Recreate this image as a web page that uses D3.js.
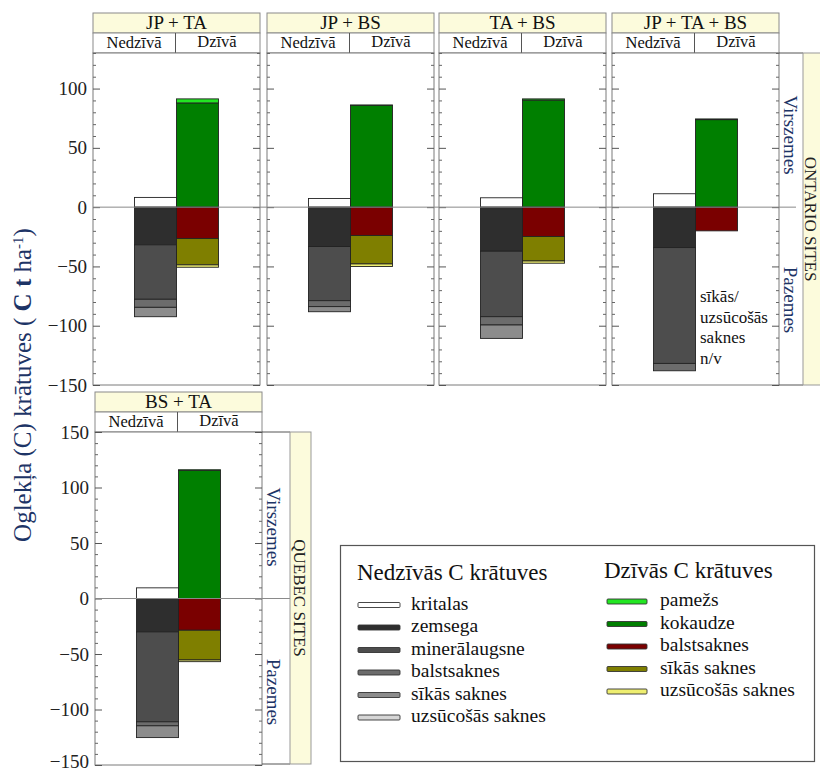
<!DOCTYPE html>
<html>
<head>
<meta charset="utf-8">
<script src="https://cdn.jsdelivr.net/npm/d3@7"></script>
<style>
  html, body { margin: 0; padding: 0; background: #fff; }
</style>
</head>
<body>
<svg id="chart" width="820" height="771"></svg>
<script>
// Carbon stocks (t C/ha) by forest type, dead vs live pools
const sites = ["JP + TA", "JP + BS", "TA + BS", "JP + TA + BS", "BS + TA"];
const columns = ["Nedzīvā", "Dzīvā"];

// Dead pools (Nedzīvā)
const deadPools = ["kritalas", "zemsega", "minerālaugsne", "balstsaknes", "sīkās saknes", "uzsūcošās saknes"];
const deadColors = ["#ffffff", "#2e2e2e", "#4d4d4d", "#6c6c6c", "#8c8c8c", "#d6d6d6"];
const deadKritalas   = [8.2, 7.3, 7.9, 11.3, 9.6];
const deadZemsega    = [31.8, 33.2, 37.2, 34.1, 30.1];
const deadMineral    = [45.9, 45.7, 55.2, 97.7, 81.0];
const deadBalst      = [6.8, 5.0, 7.0, 6.2, 3.6];
const deadSikas      = [7.9, 4.3, 11.3, 0, 10.6];
const deadUzsucosas  = [0, 0, 0, 0, 0];

// Live pools (Dzīvā)
const livePools = ["pamežs", "kokaudze", "balstsaknes", "sīkās saknes", "uzsūcošās saknes"];
const liveColors = ["#22e622", "#007f00", "#7a0000", "#7f7f00", "#eeee70"];
const livePamezs     = [3.4, 0.5, 1.0, 0.6, 0.6];
const liveKokaudze   = [87.9, 85.7, 90.3, 73.8, 115.4];
const liveBalst      = [26.5, 23.9, 24.8, 20.0, 28.6];
const liveSikas      = [22.2, 24.0, 20.6, 0, 26.8];
const liveUzsucosas  = [2.0, 2.2, 1.9, 0, 1.5];

const topTicks = [100, 50, 0, -50, -100, -150];
const bottomTicks = [150, 100, 50, 0, -50, -100, -150];

const FONT = "Liberation Serif";
const svg = d3.select("#chart");
const blue = "#1d3466";

// Panel geometry
const panelW = 167;
const panels = [
  { site: 0, x: 93,  top: 53,  bottom: 385, hdr: 13,  domain: [-150, 130], ticks: topTicks, labels: true },
  { site: 1, x: 267, top: 53,  bottom: 385, hdr: 13,  domain: [-150, 130], ticks: topTicks, labels: false },
  { site: 2, x: 439, top: 53,  bottom: 385, hdr: 13,  domain: [-150, 130], ticks: topTicks, labels: false },
  { site: 3, x: 612, top: 53,  bottom: 385, hdr: 13,  domain: [-150, 130], ticks: topTicks, labels: false },
  { site: 4, x: 95,  top: 432, bottom: 765, hdr: 392, domain: [-150, 150], ticks: bottomTicks, labels: true }
];

// Build stacked segments for one site
function segments(i) {
  const segs = [];
  // dead column: litter above ground, the rest stacked downward
  segs.push({ col: "Nedzīvā", y0: 0, y1: deadKritalas[i], color: deadColors[0] });
  const deadBelow = [deadZemsega[i], deadMineral[i], deadBalst[i], deadSikas[i], deadUzsucosas[i]];
  let acc = 0;
  deadBelow.forEach((v, k) => {
    if (v > 0) segs.push({ col: "Nedzīvā", y0: -acc, y1: -(acc + v), color: deadColors[k + 1] });
    acc += v;
  });
  // live column: trees, then understory on top
  segs.push({ col: "Dzīvā", y0: 0, y1: liveKokaudze[i], color: liveColors[1] });
  segs.push({ col: "Dzīvā", y0: liveKokaudze[i], y1: liveKokaudze[i] + livePamezs[i], color: liveColors[0] });
  const liveBelow = [liveBalst[i], liveSikas[i], liveUzsucosas[i]];
  acc = 0;
  liveBelow.forEach((v, k) => {
    if (v > 0) segs.push({ col: "Dzīvā", y0: -acc, y1: -(acc + v), color: liveColors[k + 2] });
    acc += v;
  });
  return segs;
}

panels.forEach(p => {
  const g = svg.append("g");
  const y = d3.scaleLinear().domain(p.domain).range([p.bottom, p.top]);
  const x = d3.scaleBand().domain(columns).range([p.x + 41.5, p.x + 125.5]).padding(0);

  // header boxes
  g.append("rect").attr("x", p.x).attr("y", p.hdr).attr("width", panelW).attr("height", 20)
    .attr("fill", "#fcfbdc").attr("stroke", "#8a8a8a").attr("stroke-width", 1);
  g.append("text").attr("x", p.x + panelW / 2).attr("y", p.hdr + 16).attr("text-anchor", "middle")
    .attr("font-size", 19).attr("fill", "#111").text(sites[p.site]);
  g.append("rect").attr("x", p.x).attr("y", p.hdr + 20).attr("width", panelW).attr("height", 20)
    .attr("fill", "#fff").attr("stroke", "#8a8a8a").attr("stroke-width", 1);
  g.append("line").attr("x1", p.x + 82.5).attr("x2", p.x + 82.5).attr("y1", p.hdr + 20).attr("y2", p.hdr + 40)
    .attr("stroke", "#555");
  g.append("text").attr("x", p.x + 41).attr("y", p.hdr + 35).attr("text-anchor", "middle")
    .attr("font-size", 16.5).attr("fill", "#111").text(columns[0]);
  g.append("text").attr("x", p.x + 124).attr("y", p.hdr + 34).attr("text-anchor", "middle")
    .attr("font-size", 16.5).attr("fill", "#111").text(columns[1]);

  // plot frame
  g.append("rect").attr("x", p.x).attr("y", p.top).attr("width", panelW).attr("height", p.bottom - p.top)
    .attr("fill", "#fff").attr("stroke", "#7a7a7a").attr("stroke-width", 1);

  // inner ticks on both sides (minor every 10, major every 50)
  const minor = d3.range(-150, p.domain[1] + 0.1, 10).filter(v => v % 50 !== 0);
  const major = d3.range(-150, p.domain[1] + 0.1, 50);
  [[d3.axisRight, p.x], [d3.axisLeft, p.x + panelW]].forEach(([axisFn, ax]) => {
    g.append("g").attr("transform", `translate(${ax},0)`)
      .call(axisFn(y).tickValues(minor).tickSize(3).tickFormat(""))
      .call(s => s.select(".domain").remove())
      .call(s => s.selectAll("line").attr("stroke", "#666"));
    g.append("g").attr("transform", `translate(${ax},0)`)
      .call(axisFn(y).tickValues(major).tickSize(7).tickFormat(""))
      .call(s => s.select(".domain").remove())
      .call(s => s.selectAll("line").attr("stroke", "#555"));
  });

  // value labels on the leftmost panel of each row
  if (p.labels) {
    g.append("g").attr("transform", `translate(${p.x},0)`)
      .call(d3.axisLeft(y).tickValues(p.ticks).tickSize(0).tickPadding(6).tickFormat(d3.format("d")))
      .call(s => s.attr("font-size", 19).attr("font-family", FONT))
      .call(s => s.select(".domain").remove())
      .call(s => s.selectAll("text").attr("fill", "#222")
        .attr("dy", d => d === -150 && p.site === 4 ? "0.12em" : "0.32em"));
  }

  // stacked bars
  g.selectAll("rect.seg").data(segments(p.site)).join("rect").attr("class", "seg")
    .attr("x", d => x(d.col)).attr("width", x.bandwidth())
    .attr("y", d => y(Math.max(d.y0, d.y1)))
    .attr("height", d => Math.abs(y(d.y0) - y(d.y1)))
    .attr("fill", d => d.color).attr("stroke", "#222").attr("stroke-width", 0.9);
});

// zero lines
const yTop = d3.scaleLinear().domain([-150, 130]).range([385, 53]);
const yBot = d3.scaleLinear().domain([-150, 150]).range([765, 432]);
svg.append("line").attr("x1", 93).attr("x2", 796).attr("y1", yTop(0)).attr("y2", yTop(0))
  .attr("stroke", "#8a8a8a").attr("stroke-width", 1);
svg.append("line").attr("x1", 95).attr("x2", 290).attr("y1", yBot(0)).attr("y2", yBot(0))
  .attr("stroke", "#8a8a8a").attr("stroke-width", 1);

// note for missing fine root data
const note = svg.append("text").attr("x", 700).attr("font-size", 17).attr("fill", "#111");
["sīkās/", "uzsūcošās", "saknes", "n/v"].forEach((t, i) => {
  note.append("tspan").attr("x", 700).attr("y", yTop(-80) + i * 20.5).text(t);
});

// region brackets with site group labels
function bracket(xEdge, top, bottom, boxX, label, upY, downY, labelX) {
  const g = svg.append("g");
  [top, bottom].forEach(yy => g.append("line").attr("x1", xEdge).attr("x2", boxX)
    .attr("y1", yy).attr("y2", yy).attr("stroke", "#555"));
  g.append("rect").attr("x", boxX).attr("y", top).attr("width", 21).attr("height", bottom - top)
    .attr("fill", "#fcfbdc").attr("stroke", "#999");
  const cy = (top + bottom) / 2;
  g.append("text").attr("transform", `translate(${labelX},${cy}) rotate(90)`).attr("text-anchor", "middle")
    .attr("font-size", 17).attr("fill", "#222").text(label);
  g.append("text").attr("transform", `translate(${xEdge + 5},${upY}) rotate(90)`).attr("text-anchor", "middle")
    .attr("font-size", 19).attr("fill", blue).text("Virszemes");
  g.append("text").attr("transform", `translate(${xEdge + 5},${downY}) rotate(90)`).attr("text-anchor", "middle")
    .attr("font-size", 19).attr("fill", blue).text("Pazemes");
}
bracket(779, 53, 385, 803, "ONTARIO SITES", 135, 300, 805);
bracket(262, 432, 764, 290, "QUEBEC SITES", 527, 692, 294);

// y-axis title
const title = svg.append("text").attr("transform", "translate(31,385) rotate(-90)")
  .attr("text-anchor", "middle").attr("font-size", 25).attr("fill", blue);
title.append("tspan").text("Oglekļa (C) krātuves ( ");
title.append("tspan").attr("font-weight", "bold").text("C t");
title.append("tspan").text(" ha");
title.append("tspan").attr("font-size", 15).attr("baseline-shift", "super").text("-1");
title.append("tspan").text(")");

// legend
const lg = svg.append("g");
lg.append("rect").attr("x", 340.5).attr("y", 545.5).attr("width", 474).attr("height", 216)
  .attr("fill", "#fff").attr("stroke", "#555").attr("stroke-width", 1.2);
lg.append("text").attr("x", 357).attr("y", 580).attr("font-size", 23).attr("fill", "#111").text("Nedzīvās C krātuves");
lg.append("text").attr("x", 604).attr("y", 578).attr("font-size", 23).attr("fill", "#111").text("Dzīvās C krātuves");
const deadRows = d3.scaleLinear().domain([0, 5]).range([605, 717.5]);
deadPools.forEach((name, i) => {
  lg.append("rect").attr("x", 358).attr("y", deadRows(i) - 2.5).attr("width", 42).attr("height", 5)
    .attr("rx", 1).attr("fill", deadColors[i]).attr("stroke", "#333").attr("stroke-width", 0.9);
  lg.append("text").attr("x", 411).attr("y", deadRows(i) + 4.5).attr("font-size", 19.5).attr("fill", "#111").text(name);
});
const liveRows = d3.scaleLinear().domain([0, 4]).range([601.5, 691.5]);
livePools.forEach((name, i) => {
  lg.append("rect").attr("x", 607).attr("y", liveRows(i) - 2.5).attr("width", 40).attr("height", 5)
    .attr("rx", 1).attr("fill", liveColors[i]).attr("stroke", "#333").attr("stroke-width", 0.9);
  lg.append("text").attr("x", 660).attr("y", liveRows(i) + 4.5).attr("font-size", 19.5).attr("fill", "#111").text(name);
});

// serif face for every label
svg.selectAll("text").attr("font-family", FONT).style("font-family", FONT);
</script>
</body>
</html>
